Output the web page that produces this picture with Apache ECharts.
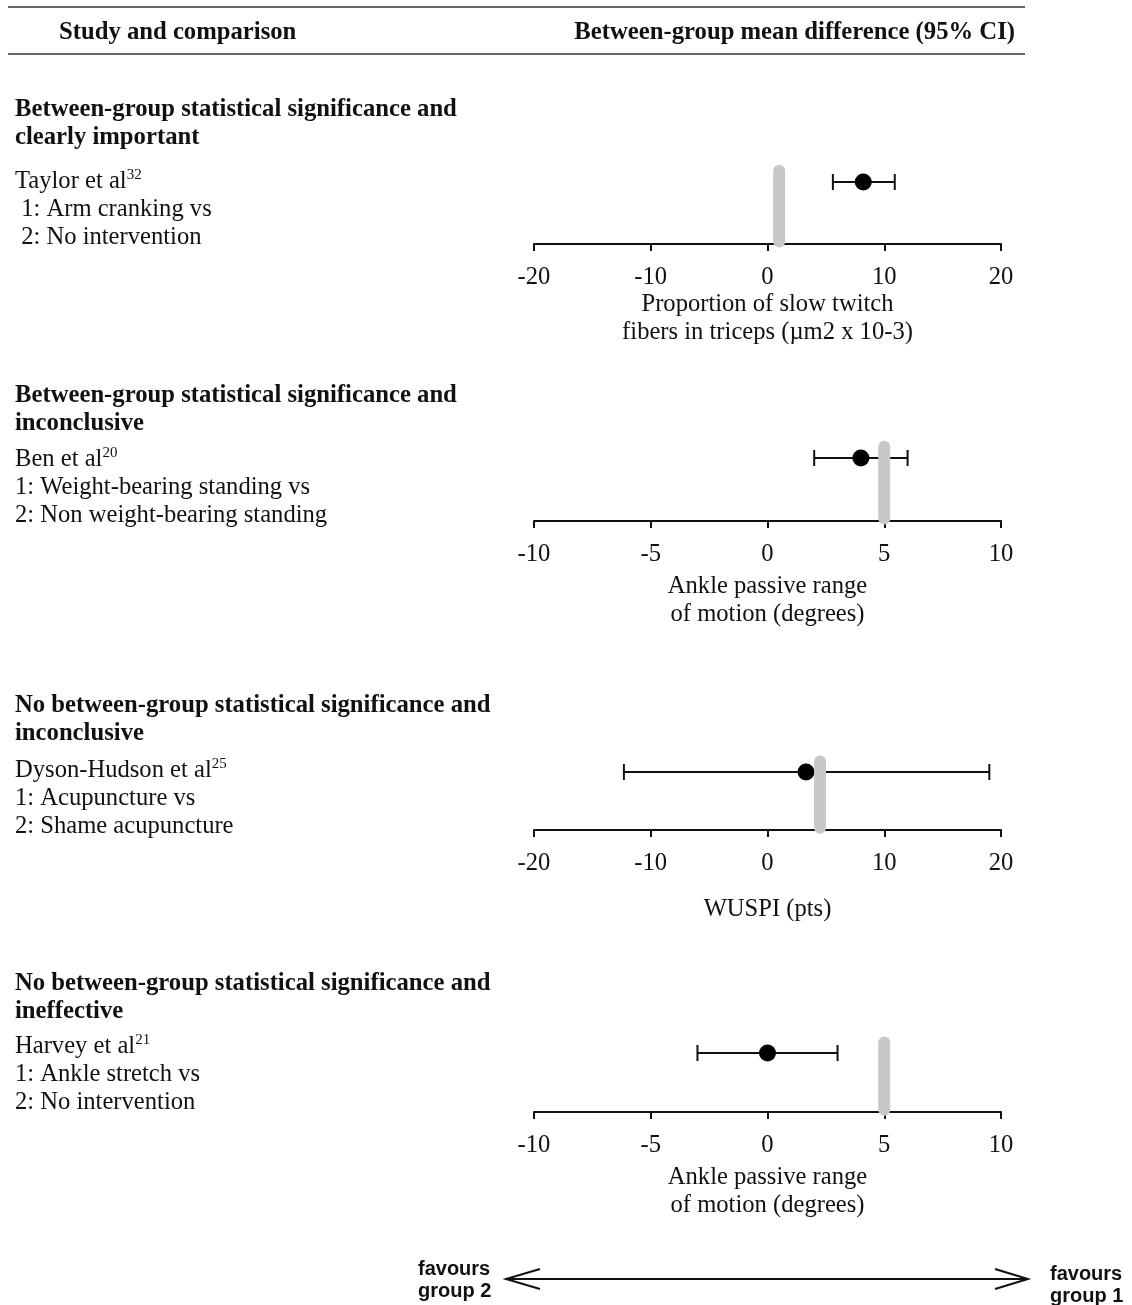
<!DOCTYPE html>
<html>
<head>
<meta charset="utf-8">
<script src="https://cdn.jsdelivr.net/npm/echarts@6/dist/echarts.min.js"></script>
<style>
html,body{margin:0;padding:0;background:#fff;}
#chart{width:1132px;height:1305px;}
</style>
</head>
<body>
<div id="chart"></div>
<script>
// ---- data ----
const headerLeft = 'Study and comparison';
const headerRight = 'Between-group mean difference (95% CI)';
const headings1 = [
  'Between-group statistical significance and',
  'Between-group statistical significance and',
  'No between-group statistical significance and',
  'No between-group statistical significance and'
];
const headings2 = ['clearly important', 'inconclusive', 'inconclusive', 'ineffective'];
const studies = ['Taylor et al', 'Ben et al', 'Dyson-Hudson et al', 'Harvey et al'];
const refs = ['32', '20', '25', '21'];
const comparison1 = [' 1: Arm cranking vs', '1: Weight-bearing standing vs', '1: Acupuncture vs', '1: Ankle stretch vs'];
const comparison2 = [' 2: No intervention', '2: Non weight-bearing standing', '2: Shame acupuncture', '2: No intervention'];
const means = [8.2, 4, 3.3, 0];
const ciLow = [5.6, 2, -12.3, -3];
const ciHigh = [10.9, 6, 19, 3];
const thresholds = [1, 5, 4.5, 5];
const axisMin = [-20, -10, -20, -10];
const axisMax = [20, 10, 20, 10];
const axisInterval = [10, 5, 10, 5];
const axisNames = [
  'Proportion of slow twitch\nfibers in triceps (\u00b5m2 x 10-3)',
  'Ankle passive range\nof motion (degrees)',
  'WUSPI (pts)',
  'Ankle passive range\nof motion (degrees)'
];
const favourLeft = 'favours\ngroup 2';
const favourRight = 'favours\ngroup 1';

// ---- layout ----
const SERIF = '"Liberation Serif", "Times New Roman", serif';
const SANS = '"Liberation Sans", Arial, sans-serif';
const FS = 24.6;   // regular serif size
const FB = 24.7;   // bold serif size
const axisY = [244, 521, 830, 1112];
const dotY = [182, 458, 772, 1053];
const nameGaps = [45, 52, 66, 52];
const headY = [110, 396, 706, 984];
const studyY = [182, 460, 771, 1047];
const TXT = '#111';

const chart = echarts.init(document.getElementById('chart'), null, {renderer: 'canvas'});

const grids = [], xAxes = [], yAxes = [], series = [], graphics = [];

for (let i = 0; i < 4; i++) {
  grids.push({left: 534, width: 467, top: dotY[i], height: axisY[i] - dotY[i], containLabel: false});
  xAxes.push({
    type: 'value', gridIndex: i, min: axisMin[i], max: axisMax[i], interval: axisInterval[i],
    axisLine: {show: true, onZero: false, lineStyle: {color: '#111', width: 2}},
    axisTick: {show: true, inside: false, length: 7, lineStyle: {color: '#111', width: 2}},
    splitLine: {show: false},
    axisLabel: {margin: 21, fontFamily: SERIF, fontSize: FS, color: TXT, showMinLabel: true, showMaxLabel: true},
    name: axisNames[i], nameLocation: 'middle', nameGap: nameGaps[i],
    nameTextStyle: {fontFamily: SERIF, fontSize: FS, color: TXT, lineHeight: 28}
  });
  yAxes.push({type: 'value', gridIndex: i, min: 0, max: 1, show: false});

  // whisker (CI)
  series.push({
    type: 'custom', xAxisIndex: i, yAxisIndex: i, clip: false, z: 2, silent: true,
    data: [[ciLow[i], ciHigh[i], 1]],
    renderItem: function (params, api) {
      const a = api.coord([api.value(0), api.value(2)]);
      const b = api.coord([api.value(1), api.value(2)]);
      const st = {stroke: '#111', lineWidth: 2};
      return {type: 'group', children: [
        {type: 'line', shape: {x1: a[0], y1: a[1], x2: b[0], y2: b[1]}, style: st},
        {type: 'line', shape: {x1: a[0], y1: a[1] - 8, x2: a[0], y2: a[1] + 8}, style: st},
        {type: 'line', shape: {x1: b[0], y1: b[1] - 8, x2: b[0], y2: b[1] + 8}, style: st}
      ]};
    }
  });
  // point estimate
  series.push({
    type: 'scatter', xAxisIndex: i, yAxisIndex: i, z: 3, silent: true,
    symbol: 'circle', symbolSize: 17, itemStyle: {color: '#000', opacity: 1, borderWidth: 0},
    data: [[means[i], 1]]
  });
  // threshold bar
  series.push({
    type: 'line', xAxisIndex: i, yAxisIndex: i, z: 4, clip: false, silent: true,
    symbol: 'none', lineStyle: {color: '#c8c8c8', width: 12, cap: 'round', opacity: 1},
    data: [[thresholds[i], 0.04], [thresholds[i], 1.18]]
  });

  // left texts
  graphics.push({type: 'text', left: 15, top: headY[i] - 14, style: {
    text: headings1[i] + '\n' + headings2[i], font: 'bold ' + FB + 'px ' + SERIF, fill: TXT, lineHeight: 28}});
  graphics.push({type: 'text', left: 15, top: studyY[i] - 14, style: {
    text: studies[i] + '{sup|' + refs[i] + '}', font: FS + 'px ' + SERIF, fill: TXT, lineHeight: 28,
    rich: {sup: {fontFamily: SERIF, fontSize: 15, fill: TXT, verticalAlign: 'top', lineHeight: 28, padding: [0, 0, 14, 0]}}}});
  graphics.push({type: 'text', left: 15, top: studyY[i] + 14, style: {
    text: comparison1[i] + '\n' + comparison2[i], font: FS + 'px ' + SERIF, fill: TXT, lineHeight: 28}});
}

// header
graphics.push({type: 'line', shape: {x1: 8, y1: 7, x2: 1025, y2: 7}, style: {stroke: '#333', lineWidth: 1.5}});
graphics.push({type: 'line', shape: {x1: 8, y1: 54, x2: 1025, y2: 54}, style: {stroke: '#333', lineWidth: 1.5}});
graphics.push({type: 'text', x: 59, y: 33, style: {text: headerLeft, font: 'bold ' + FB + 'px ' + SERIF, fill: TXT, verticalAlign: 'middle'}});
graphics.push({type: 'text', x: 1015, y: 33, style: {text: headerRight, font: 'bold ' + FB + 'px ' + SERIF, fill: TXT, verticalAlign: 'middle', align: 'right'}});

// favours arrow
graphics.push({type: 'line', shape: {x1: 507, y1: 1279, x2: 1027, y2: 1279}, style: {stroke: '#111', lineWidth: 2}});
graphics.push({type: 'polyline', shape: {points: [[540, 1269], [506, 1279], [540, 1289]]}, style: {stroke: '#111', lineWidth: 2, fill: null}});
graphics.push({type: 'polyline', shape: {points: [[995, 1269], [1028, 1279], [995, 1289]]}, style: {stroke: '#111', lineWidth: 2, fill: null}});
graphics.push({type: 'text', x: 418, y: 1280, style: {text: favourLeft, font: 'bold 20px ' + SANS, fill: TXT, lineHeight: 22, verticalAlign: 'middle'}});
graphics.push({type: 'text', x: 1050, y: 1285, style: {text: favourRight, font: 'bold 20px ' + SANS, fill: TXT, lineHeight: 22, verticalAlign: 'middle'}});

chart.setOption({
  backgroundColor: '#fff',
  animation: false,
  grid: grids,
  xAxis: xAxes,
  yAxis: yAxes,
  series: series,
  graphic: graphics
});
</script>
</body>
</html>
